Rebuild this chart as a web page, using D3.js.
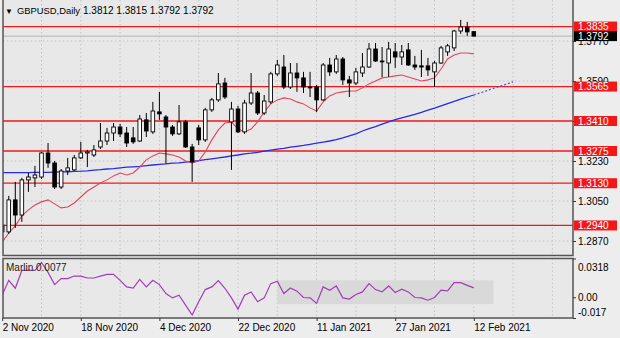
<!DOCTYPE html>
<html>
<head>
<meta charset="utf-8">
<script src="https://cdn.jsdelivr.net/npm/d3@7"></script>
<style>
  html, body { margin: 0; padding: 0; background: #ededed; }
  svg { display: block; font-family: "Liberation Sans", Arial, sans-serif; }
</style>
</head>
<body>
<svg id="chart" width="620" height="338"></svg>
<script>
// ---- GBPUSD daily bars ----
const dates = [
  "2020-11-02","2020-11-03","2020-11-04","2020-11-05","2020-11-06","2020-11-09","2020-11-10","2020-11-11","2020-11-12","2020-11-13",
  "2020-11-16","2020-11-17","2020-11-18","2020-11-19","2020-11-20","2020-11-23","2020-11-24","2020-11-25","2020-11-26","2020-11-27",
  "2020-11-30","2020-12-01","2020-12-02","2020-12-03","2020-12-04","2020-12-07","2020-12-08","2020-12-09","2020-12-10","2020-12-11",
  "2020-12-14","2020-12-15","2020-12-16","2020-12-17","2020-12-18","2020-12-21","2020-12-22","2020-12-23","2020-12-24","2020-12-28",
  "2020-12-29","2020-12-30","2020-12-31","2021-01-04","2021-01-05","2021-01-06","2021-01-07","2021-01-08","2021-01-11","2021-01-12",
  "2021-01-13","2021-01-14","2021-01-15","2021-01-18","2021-01-19","2021-01-20","2021-01-21","2021-01-22","2021-01-25","2021-01-26",
  "2021-01-27","2021-01-28","2021-01-29","2021-02-01","2021-02-02","2021-02-03","2021-02-04","2021-02-05","2021-02-08","2021-02-09",
  "2021-02-10","2021-02-11","2021-02-12"
];

const open = [
  1.2942,1.2911,1.3055,1.2987,1.3145,1.3154,1.3158,1.3266,1.3221,1.3113,
  1.3185,1.3190,1.3244,1.3266,1.3257,1.3293,1.3320,1.3356,1.3383,1.3356,
  1.3334,1.3320,1.3415,1.3361,1.3451,1.3428,1.3383,1.3352,1.3406,1.3293,
  1.3379,1.3325,1.3460,1.3505,1.3581,1.3406,1.3464,1.3361,1.3491,1.3536,
  1.3446,1.3496,1.3622,1.3653,1.3563,1.3626,1.3604,1.3563,1.3563,1.3505,
  1.3662,1.3631,1.3689,1.3595,1.3581,1.3626,1.3653,1.3734,1.3680,1.3671,
  1.3721,1.3698,1.3730,1.3662,1.3658,1.3658,1.3631,1.3671,1.3721,1.3739,
  1.3815,1.3833,1.3812
];
const high = [
  1.2956,1.3073,1.3136,1.3154,1.3176,1.3208,1.3271,1.3311,1.3230,1.3194,
  1.3244,1.3257,1.3316,1.3280,1.3302,1.3401,1.3379,1.3401,1.3397,1.3383,
  1.3383,1.3437,1.3446,1.3496,1.3541,1.3437,1.3392,1.3482,1.3415,1.3307,
  1.3392,1.3469,1.3514,1.3626,1.3604,1.3496,1.3478,1.3505,1.3626,1.3545,
  1.3527,1.3631,1.3685,1.3707,1.3671,1.3671,1.3631,1.3631,1.3572,1.3671,
  1.3694,1.3707,1.3698,1.3613,1.3649,1.3716,1.3761,1.3761,1.3743,1.3766,
  1.3761,1.3752,1.3761,1.3703,1.3730,1.3694,1.3680,1.3748,1.3757,1.3820,
  1.3865,1.3856,1.3815
];
const low = [
  1.2884,1.2902,1.2929,1.2956,1.3091,1.3113,1.3149,1.3199,1.3104,1.3104,
  1.3167,1.3185,1.3239,1.3203,1.3248,1.3284,1.3302,1.3320,1.3338,1.3293,
  1.3307,1.3316,1.3338,1.3352,1.3415,1.3217,1.3343,1.3347,1.3289,1.3136,
  1.3302,1.3316,1.3451,1.3496,1.3509,1.3190,1.3356,1.3352,1.3482,1.3437,
  1.3437,1.3487,1.3613,1.3554,1.3554,1.3541,1.3536,1.3518,1.3451,1.3500,
  1.3613,1.3622,1.3572,1.3518,1.3572,1.3608,1.3649,1.3676,1.3608,1.3608,
  1.3649,1.3662,1.3658,1.3640,1.3608,1.3613,1.3563,1.3667,1.3703,1.3725,
  1.3802,1.3793,1.3792
];
const close = [
  1.2911,1.3055,1.2987,1.3145,1.3158,1.3167,1.3266,1.3221,1.3113,1.3185,
  1.3199,1.3244,1.3266,1.3271,1.3280,1.3320,1.3356,1.3383,1.3352,1.3311,
  1.3316,1.3419,1.3365,1.3455,1.3442,1.3383,1.3352,1.3406,1.3293,1.3226,
  1.3325,1.3460,1.3505,1.3577,1.3518,1.3464,1.3361,1.3491,1.3536,1.3446,
  1.3500,1.3622,1.3662,1.3563,1.3626,1.3604,1.3563,1.3559,1.3505,1.3662,
  1.3631,1.3689,1.3595,1.3581,1.3631,1.3653,1.3734,1.3680,1.3676,1.3734,
  1.3698,1.3721,1.3662,1.3653,1.3653,1.3640,1.3671,1.3739,1.3748,1.3815,
  1.3833,1.3811,1.3792
];

// fast (red) and slow (blue) moving averages
const maFast = [
  1.2865,1.2906,1.2938,1.2983,1.3010,1.3032,1.3046,1.3055,1.3037,1.3019,
  1.3023,1.3041,1.3068,1.3095,1.3113,1.3131,1.3145,1.3163,1.3176,1.3167,
  1.3176,1.3203,1.3235,1.3253,1.3266,1.3262,1.3257,1.3248,1.3230,1.3221,
  1.3230,1.3271,1.3325,1.3370,1.3401,1.3406,1.3374,1.3361,1.3374,1.3406,
  1.3451,1.3487,1.3505,1.3514,1.3509,1.3496,1.3487,1.3469,1.3455,1.3496,
  1.3523,1.3536,1.3541,1.3545,1.3545,1.3559,1.3577,1.3590,1.3604,1.3608,
  1.3613,1.3617,1.3608,1.3599,1.3590,1.3595,1.3604,1.3644,1.3689,1.3707,
  1.3716,1.3716,1.3712
];
const maSlow = [
  1.3178,1.3178,1.3178,1.3178,1.3178,1.3179,1.3179,1.3179,1.3180,1.3181,
  1.3181,1.3183,1.3184,1.3186,1.3189,1.3191,1.3194,1.3196,1.3199,1.3202,
  1.3204,1.3206,1.3209,1.3212,1.3215,1.3217,1.3220,1.3222,1.3225,1.3228,
  1.3232,1.3236,1.3240,1.3244,1.3248,1.3253,1.3257,1.3262,1.3265,1.3269,
  1.3274,1.3279,1.3283,1.3287,1.3292,1.3296,1.3300,1.3305,1.3310,1.3315,
  1.3320,1.3326,1.3334,1.3343,1.3352,1.3365,1.3376,1.3385,1.3396,1.3406,
  1.3416,1.3424,1.3432,1.3440,1.3449,1.3459,1.3468,1.3478,1.3488,1.3498,
  1.3508,1.3518,1.3527
];
// dotted projection of the slow average past the last bar
const slowProjection = { fromBar: 72, toBar: 78, from: 1.3527, to: 1.3586 };

// Marlin oscillator
const marlin = [
  0.0017,0.0139,0.0074,0.0220,0.0220,0.0220,0.0285,0.0204,0.0104,0.0153,
  0.0153,0.0174,0.0174,0.0158,0.0158,0.0174,0.0188,0.0188,0.0139,0.0085,
  0.0076,0.0147,0.0085,0.0139,0.0104,0.0031,-0.0005,0.0017,-0.0064,-0.0146,
  -0.0037,0.0063,0.0085,0.0137,0.0074,-0.0005,-0.0097,0.0017,0.0044,-0.0037,
  -0.0005,0.0112,0.0131,0.0031,0.0076,0.0050,-0.0002,-0.0005,-0.0050,0.0085,
  0.0058,0.0093,-0.0005,-0.0015,0.0023,0.0044,0.0112,0.0063,0.0044,0.0093,
  0.0039,0.0066,0.0044,-0.0002,-0.0005,-0.0024,-0.0002,0.0058,0.0052,0.0120,
  0.0120,0.0098,0.0077
];
const marlinZone = { startBar: 42, endBar: 75, top: 0.0139, bottom: -0.0056 };

// horizontal support / resistance levels
const levels = [1.3835, 1.3565, 1.3410, 1.3275, 1.3130, 1.2940];

// axis ticks
const priceTicks = [1.2870, 1.3050, 1.3230, 1.3410, 1.3590, 1.3770];
const marlinTicks = [0.0318, 0.00, -0.017];
const marlinTickLabels = ["0.0318", "0.00", "-0.017"];
const dateTicks = ["2020-11-02","2020-11-18","2020-12-04","2020-12-22","2021-01-11","2021-01-27","2021-02-12"];

const symbol = "GBPUSD,Daily";
const indicatorName = "Marlin";

// ---- layout ----
const plotL = 3, plotR = 573;
const mainT = 0, mainB = 255.5;
const subT = 258.5, subB = 318;
const last = dates.length - 1;

const svg = d3.select("#chart");
const x = d3.scaleLinear().domain([0, last]).range([2.2, 473.8]);
const y = d3.scaleLinear().domain([1.2870, 1.3770]).range([241, 41]);
const yo = d3.scaleLinear().domain([-0.017, 0.0318]).range([subB, subT]);

const defs = svg.append("defs");
defs.append("clipPath").attr("id", "clipMain").append("rect")
  .attr("x", plotL).attr("y", mainT).attr("width", plotR - plotL).attr("height", mainB - mainT);
defs.append("clipPath").attr("id", "clipSub").append("rect")
  .attr("x", plotL).attr("y", subT).attr("width", plotR - plotL).attr("height", subB - subT);

// panel backgrounds
svg.append("rect").attr("x", plotL).attr("y", mainT).attr("width", plotR - plotL).attr("height", mainB - mainT).attr("fill", "#e8e8e8");
svg.append("rect").attr("x", plotL).attr("y", subT).attr("width", plotR - plotL).attr("height", subB - subT).attr("fill", "#e8e8e8");

const main = svg.append("g").attr("clip-path", "url(#clipMain)");
const sub = svg.append("g").attr("clip-path", "url(#clipSub)");

// grid
const gridBars = d3.range(0, 90, 6);
const gridStyle = sel => sel.attr("stroke", "#c4c4c4").attr("stroke-width", 1).attr("stroke-dasharray", "1.5,2.5");
main.selectAll("line.vg").data(gridBars).join("line")
  .attr("x1", d => x(d)).attr("x2", d => x(d)).attr("y1", mainT).attr("y2", mainB).call(gridStyle);
main.selectAll("line.hg").data(priceTicks).join("line")
  .attr("x1", plotL).attr("x2", plotR).attr("y1", d => y(d)).attr("y2", d => y(d)).call(gridStyle);
sub.selectAll("line.vg").data(gridBars).join("line")
  .attr("x1", d => x(d)).attr("x2", d => x(d)).attr("y1", subT).attr("y2", subB).call(gridStyle);

// bid line at the last close
main.append("line").attr("x1", plotL).attr("x2", plotR)
  .attr("y1", y(close[last])).attr("y2", y(close[last]))
  .attr("stroke", "#b4b4b4").attr("stroke-width", 1);

// level lines
main.selectAll("line.level").data(levels).join("line")
  .attr("x1", plotL).attr("x2", plotR).attr("y1", d => y(d)).attr("y2", d => y(d))
  .attr("stroke", "#f21818").attr("stroke-width", 1.3);

// moving averages
const lineGen = d3.line().x((d, i) => x(i)).y(d => y(d));
main.append("path").datum(maSlow).attr("d", lineGen)
  .attr("fill", "none").attr("stroke", "#2a2ae6").attr("stroke-width", 1.3);
main.append("line")
  .attr("x1", x(slowProjection.fromBar)).attr("y1", y(slowProjection.from))
  .attr("x2", x(slowProjection.toBar)).attr("y2", y(slowProjection.to))
  .attr("stroke", "#4a4af0").attr("stroke-width", 1.2).attr("stroke-dasharray", "2,2");
main.append("path").datum(maFast).attr("d", lineGen)
  .attr("fill", "none").attr("stroke", "#e2465e").attr("stroke-width", 1.1);

// candles
const bars = d3.range(dates.length);
const candle = main.selectAll("g.candle").data(bars).join("g");
candle.append("line")
  .attr("x1", i => x(i)).attr("x2", i => x(i))
  .attr("y1", i => y(high[i])).attr("y2", i => y(low[i]))
  .attr("stroke", "#000").attr("stroke-width", 1);
candle.append("rect")
  .attr("x", i => x(i) - 1.8).attr("width", 3.6)
  .attr("y", i => y(Math.max(open[i], close[i])))
  .attr("height", i => Math.max(0.01, Math.abs(y(open[i]) - y(close[i]))))
  .attr("fill", i => close[i] >= open[i] ? "#ffffff" : "#000000")
  .attr("stroke", "#000").attr("stroke-width", 0.9);

// oscillator
sub.append("rect")
  .attr("x", x(marlinZone.startBar)).attr("width", x(marlinZone.endBar) - x(marlinZone.startBar))
  .attr("y", yo(marlinZone.top)).attr("height", yo(marlinZone.bottom) - yo(marlinZone.top))
  .attr("fill", "#d9d9d9");
sub.append("path").datum(marlin)
  .attr("d", d3.line().x((d, i) => x(i)).y(d => yo(d)))
  .attr("fill", "none").attr("stroke", "#a43cb8").attr("stroke-width", 1.2);

// frames
const frame = (t, b) => svg.append("rect")
  .attr("x", plotL).attr("y", t).attr("width", plotR - plotL).attr("height", b - t)
  .attr("fill", "none").attr("stroke", "#555").attr("stroke-width", 1.5);
frame(-2, mainB);
frame(subT, subB);

// right price axis
const fmt4 = d3.format(".4f");
const axisText = sel => sel.selectAll("text").attr("font-size", 10).attr("fill", "#000");
const gY = svg.append("g").attr("transform", `translate(${plotR},0)`)
  .call(d3.axisRight(y).tickValues(priceTicks).tickSize(3).tickPadding(2).tickFormat(fmt4));
gY.select(".domain").remove();
gY.selectAll("line").attr("stroke", "#333");
gY.call(axisText).selectAll("text").attr("font-family", null);

// oscillator axis
const gO = svg.append("g").attr("transform", `translate(${plotR},0)`)
  .call(d3.axisRight(yo).tickValues(marlinTicks).tickSize(3).tickPadding(2)
    .tickFormat((d, i) => marlinTickLabels[i]));
gO.select(".domain").remove();
gO.selectAll("line").attr("stroke", "#333");
gO.call(axisText).selectAll("text").attr("font-family", null)
  .attr("dy", (d, i) => i === 0 ? "1.15em" : (i === marlinTicks.length - 1 ? "-0.3em" : "0.32em"));

// date axis
const parse = d3.timeParse("%Y-%m-%d");
const fmtDate = d3.timeFormat("%-d %b %Y");
const gX = svg.append("g").attr("transform", `translate(0,${subB})`)
  .call(d3.axisBottom(x).tickValues(dateTicks.map(d => dates.indexOf(d))).tickSize(3).tickPadding(3)
    .tickFormat(i => fmtDate(parse(dates[i]))));
gX.select(".domain").remove();
gX.selectAll("line").attr("stroke", "#333");
gX.call(axisText).selectAll("text").attr("font-family", null).attr("text-anchor", "start");

// price tags on the axis
const tag = (value, color) => {
  const g = svg.append("g");
  g.append("rect").attr("x", plotR + 1).attr("y", y(value) - 5).attr("width", 43).attr("height", 10).attr("fill", color);
  g.append("text").attr("x", plotR + 5).attr("y", y(value)).attr("dy", "0.35em")
    .attr("font-size", 10).attr("fill", "#fff").text(fmt4(value));
};
levels.forEach(v => tag(v, "#f21818"));
tag(close[last], "#000");

// title and indicator label
const title = svg.append("text").attr("y", 14).attr("font-size", 10).attr("fill", "#000");
title.append("tspan").attr("x", 5).attr("font-size", 8).text("\u25BC");
title.append("tspan").attr("x", 17).attr("font-size", 9.4).text(symbol);
title.append("tspan").attr("x", 83)
  .text([open[last], high[last], low[last], close[last]].map(fmt4).join(" "));

svg.append("text").attr("x", 6).attr("y", 271).attr("font-size", 10).attr("fill", "#222")
  .text(`${indicatorName} ${fmt4(marlin[last])}`);
</script>
</body>
</html>
